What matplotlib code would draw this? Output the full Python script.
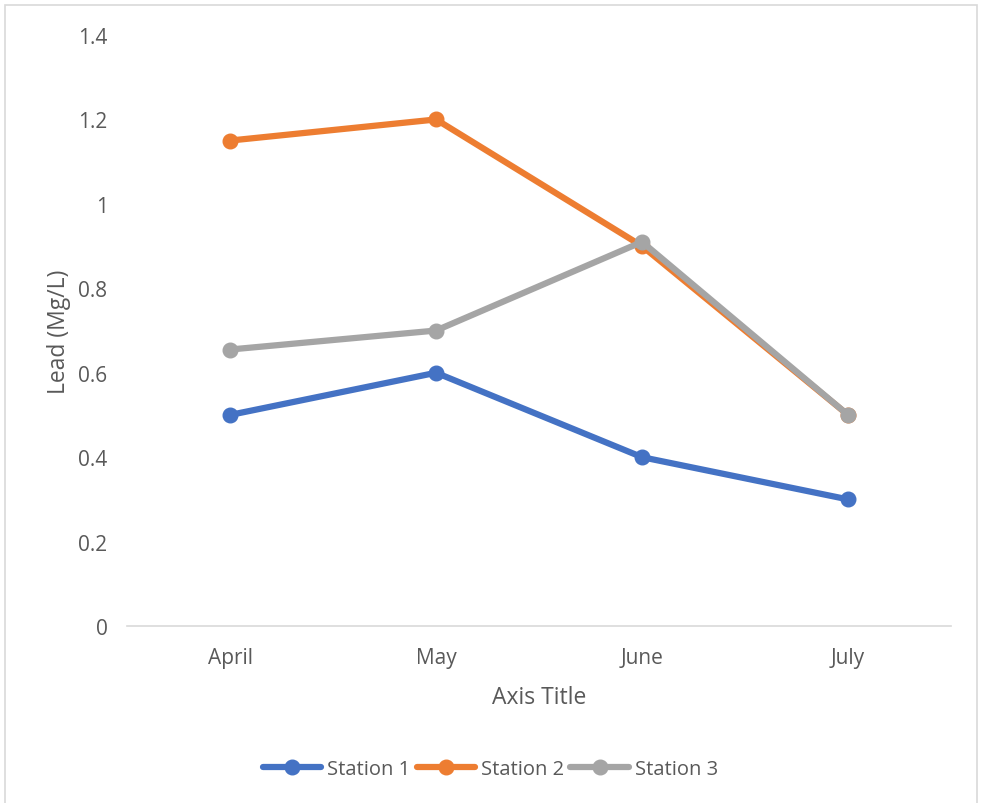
import matplotlib
matplotlib.use("Agg")
import matplotlib.pyplot as plt
from matplotlib.patches import Rectangle

months = ["April", "May", "June", "July"]
station1 = [0.5, 0.6, 0.4, 0.3]
station2 = [1.15, 1.2, 0.9, 0.5]
station3 = [0.655, 0.7, 0.91, 0.5]
series_names = ["Station 1", "Station 2", "Station 3"]
colors = ["#4472C4", "#ED7D31", "#A5A5A5"]
yticks = [0, 0.2, 0.4, 0.6, 0.8, 1, 1.2, 1.4]
ytick_labels = ["0", "0.2", "0.4", "0.6", "0.8", "1", "1.2", "1.4"]

plt.rcParams["font.family"] = ["Open Sans", "DejaVu Sans"]
text_color = "#595959"

fig = plt.figure(figsize=(9.81, 8.04), dpi=100)
fig.patches.append(Rectangle((0.005, -0.01), 0.991, 1.002, transform=fig.transFigure,
                             fill=False, edgecolor="#D9D9D9", linewidth=1.2))
ax = fig.add_axes([0.1295, 0.2201, 0.84, 0.7351])

x = list(range(len(months)))
for vals, name, c in zip([station1, station2, station3], series_names, colors):
    ax.plot(x, vals, color=c, linewidth=4.5, marker="o", markersize=10.5,
            label=name, solid_capstyle="round", solid_joinstyle="round")

ax.set_xlim(-0.5, 3.5)
ax.set_ylim(0, 1.4)
ax.set_xticks(x)
ax.set_xticklabels(months)
ax.set_yticks(yticks)
ax.set_yticklabels(ytick_labels)
ax.tick_params(axis="both", length=0, labelsize=15, colors=text_color)
ax.tick_params(axis="x", pad=15)
ax.tick_params(axis="y", pad=14)
for s in ["top", "right", "left"]:
    ax.spines[s].set_visible(False)
ax.spines["bottom"].set_color("#D9D9D9")
ax.spines["bottom"].set_linewidth(1.2)

ax.set_xlabel("Axis Title", fontsize=16.5, color=text_color, labelpad=12)
ax.set_ylabel("Lead (Mg/L)", fontsize=16.5, color=text_color)
ax.yaxis.set_label_coords(-0.068, 0.5)

leg = fig.legend(loc="center", bbox_to_anchor=(0.5, 0.042), ncol=3, frameon=False,
                 fontsize=14.5, handlelength=2.9, columnspacing=0.3, handletextpad=0.3)
for t in leg.get_texts():
    t.set_color(text_color)

fig.savefig("out.png", dpi=100)
